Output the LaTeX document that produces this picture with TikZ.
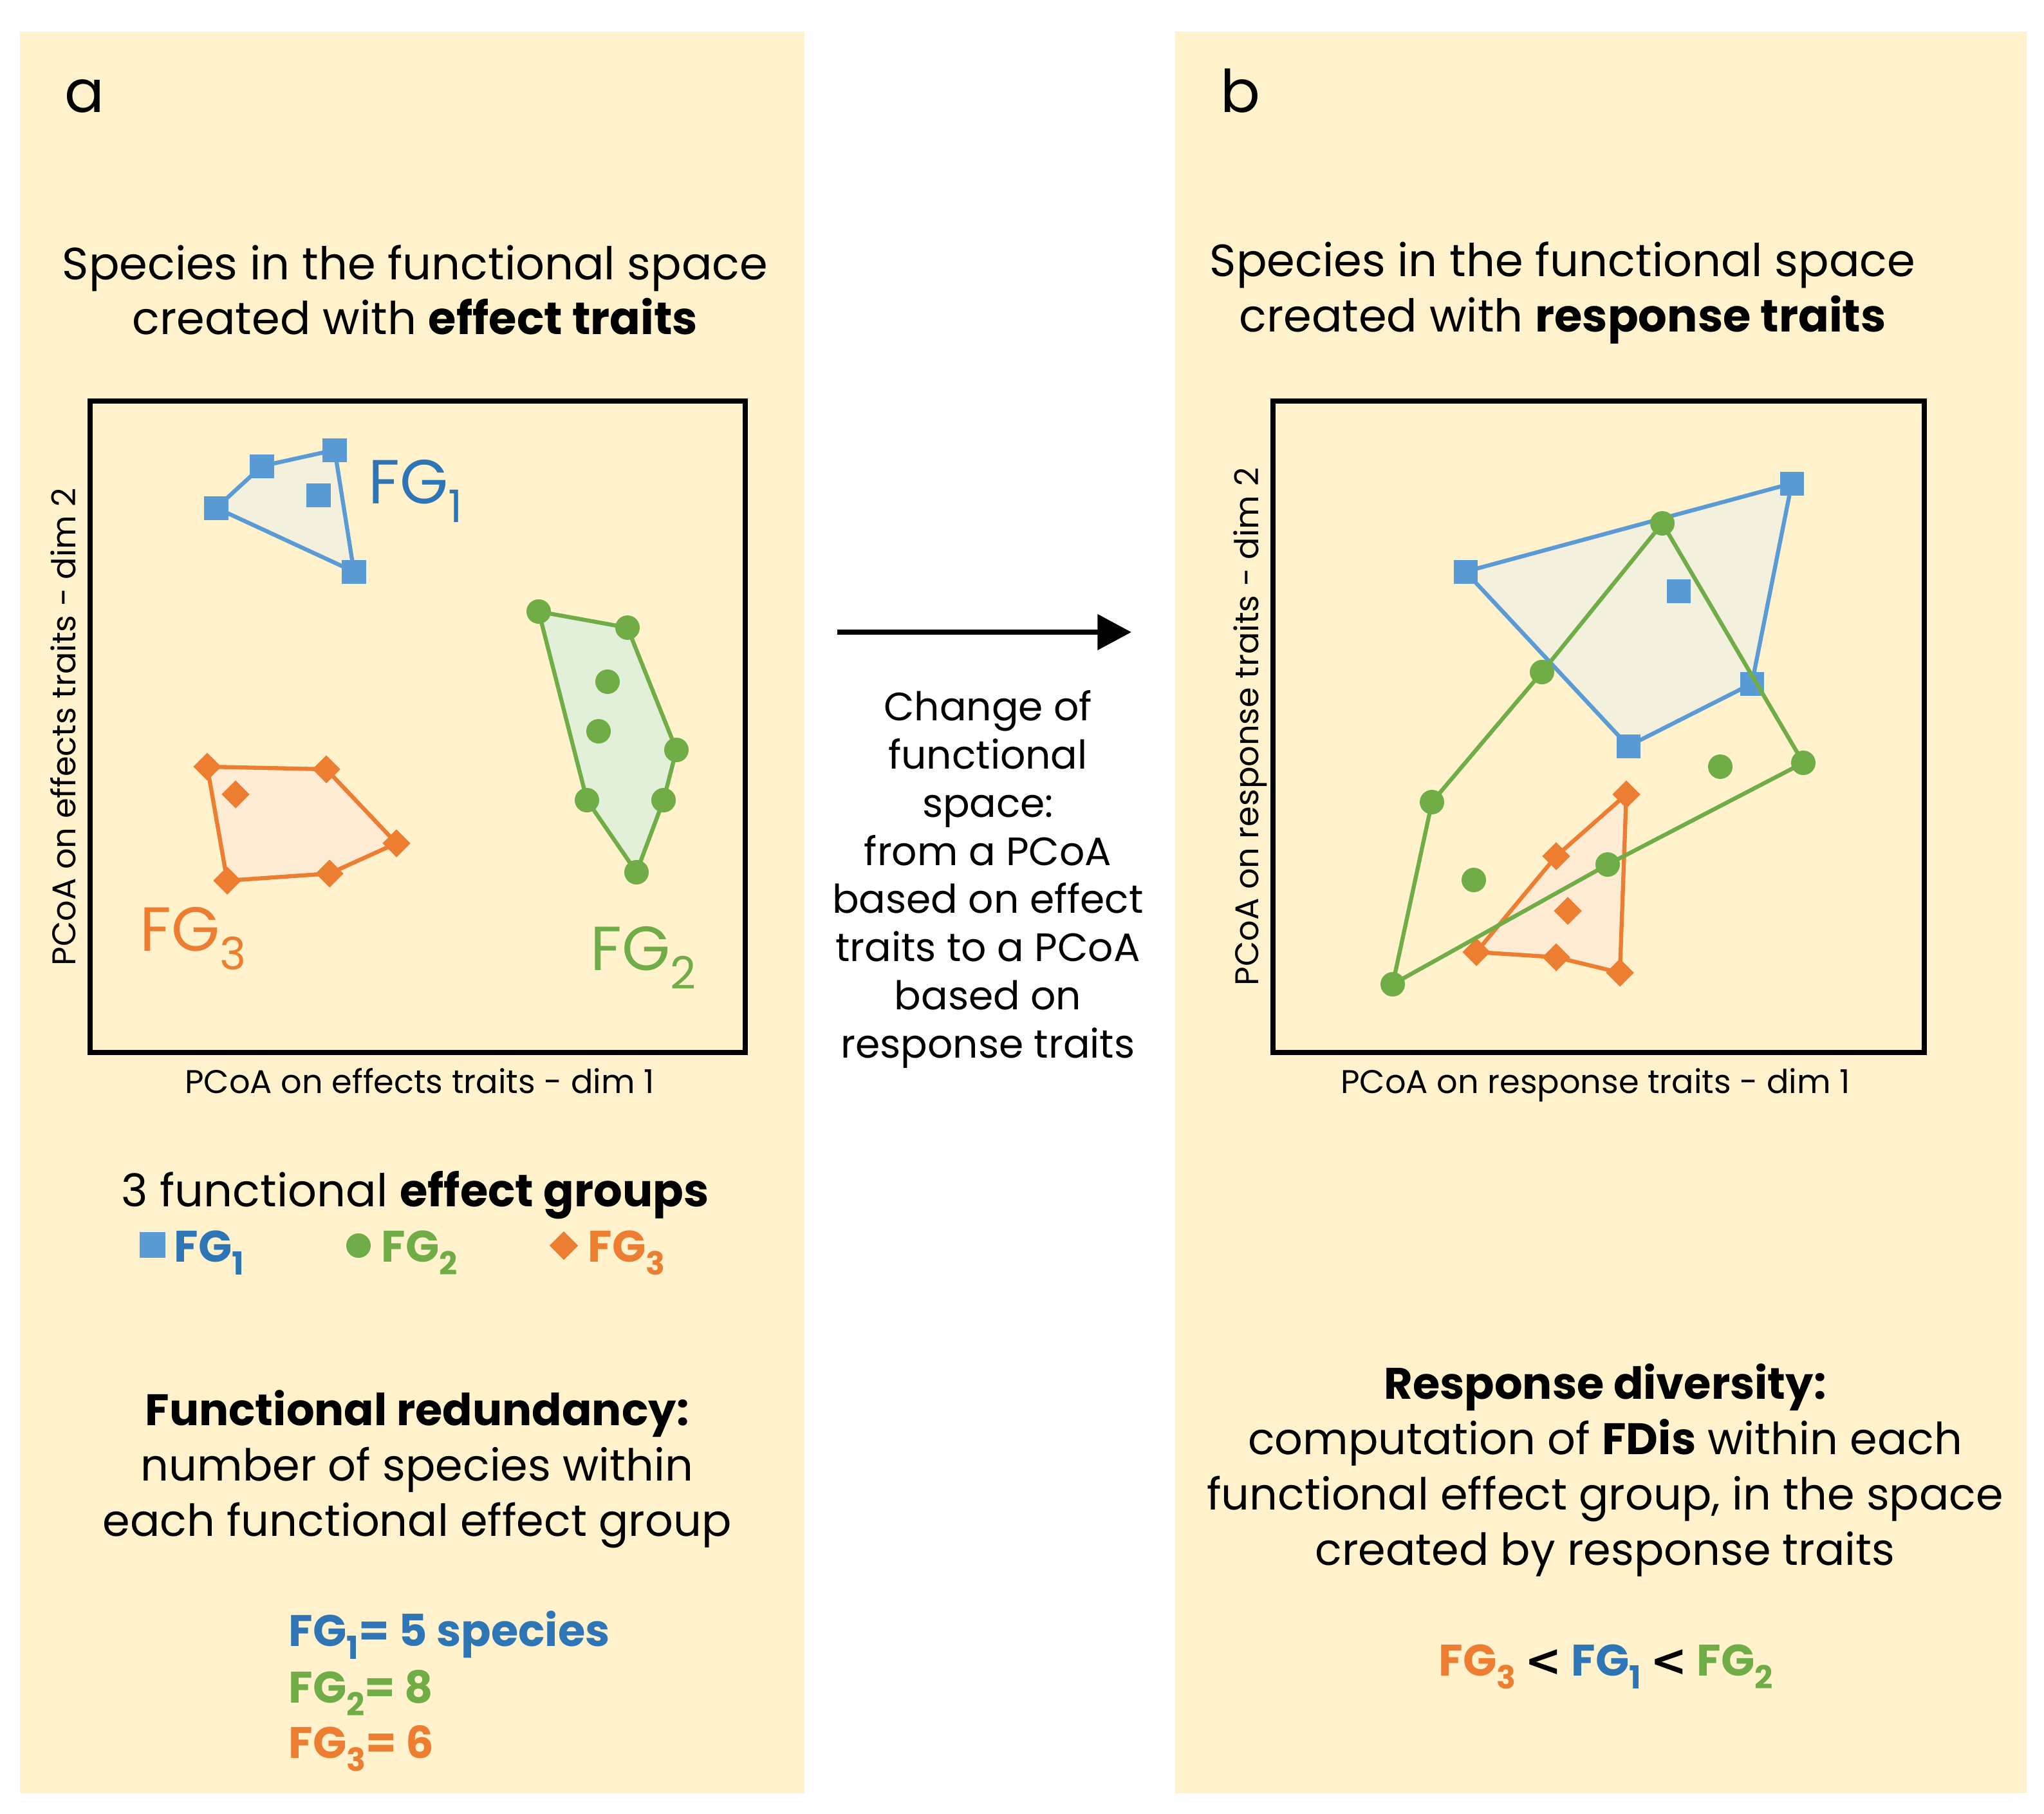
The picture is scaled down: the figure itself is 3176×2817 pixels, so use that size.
\documentclass[tikz,border=0pt]{standalone}
\usepackage{fontspec}
\usepackage{graphicx}
\setmainfont{Poppins}
\newfontfamily\ltfont{DejaVu Sans}
\usetikzlibrary{arrows.meta,shapes.geometric}

\definecolor{panelbg}{HTML}{FFF2CC}
\definecolor{fgblue}{HTML}{5B9BD5}
\definecolor{fgbluetext}{HTML}{2E75B6}
\definecolor{fggreen}{HTML}{70AD47}
\definecolor{fgorange}{HTML}{ED7D31}
\definecolor{hullblue}{HTML}{F3F1DD}
\definecolor{hullgreen}{HTML}{E2EFD9}
\definecolor{hullorange}{HTML}{FDEBD3}

\newcommand{\fgsub}[1]{\raisebox{-0.3em}{\scalebox{0.72}{#1}}}
\newcommand{\fgname}[1]{FG\fgsub{#1}}
\newcommand{\lessthan}{{\ltfont\bfseries <}}

\begin{document}
\begin{tikzpicture}[x=0.01cm,y=-0.01cm,
    panel/.style={fill=panelbg,draw=none},
    plotbox/.style={draw=black,line width=2.3pt},
    fgonemark/.style={rectangle,fill=fgblue,inner sep=0pt,minimum size=0.37cm},
    fgtwomark/.style={circle,fill=fggreen,inner sep=0pt,minimum size=0.38cm},
    fgthreemark/.style={diamond,fill=fgorange,inner sep=0pt,minimum size=0.44cm},
    hull/.style={line width=1.8pt,line join=round},
    title/.style={align=center,inner sep=0pt,font=\fontsize{20}{24.2}\selectfont},
    axislabel/.style={inner sep=0pt,anchor=base,font=\fontsize{14.5}{18}\selectfont},
    fglabel/.style={inner sep=0pt,anchor=base west,font=\fontsize{27.5}{33}\selectfont},
    bodytext/.style={align=center,inner sep=0pt,font=\fontsize{19.5}{24.5}\selectfont},
    boldfg/.style={inner sep=0pt,anchor=base west,font=\fontsize{19.5}{24.5}\selectfont\bfseries}]
  \useasboundingbox (0,0) rectangle (3176,2817);
  \fill[white] (0,0) rectangle (3176,2817);
  \fill[panel] (31,49) rectangle (1250,2786);
  \fill[panel] (1826,49) rectangle (3149,2786);

  % panel a
  \node[anchor=base west,inner sep=0pt,font=\fontsize{26}{30}\selectfont] (panela) at (100,174) {a};
  \node[title] (titlea) at (645,450) {Species in the functional space\\created with \textbf{effect traits}};

  \coordinate (lb1) at (336,789);
  \coordinate (lb2) at (407,724);
  \coordinate (lb3) at (520,699);
  \coordinate (lb4) at (550,888);
  \coordinate (lb5) at (495,769);
  \coordinate (lg1) at (837,950);
  \coordinate (lg2) at (975,975);
  \coordinate (lg3) at (1051,1165);
  \coordinate (lg4) at (1031,1243);
  \coordinate (lg5) at (989,1355);
  \coordinate (lg6) at (912,1243);
  \coordinate (lg7) at (944,1059);
  \coordinate (lg8) at (930,1136);
  \coordinate (lo1) at (322,1191);
  \coordinate (lo2) at (507,1195);
  \coordinate (lo3) at (616,1310);
  \coordinate (lo4) at (512,1357);
  \coordinate (lo5) at (353,1368);
  \coordinate (lo6) at (366,1234);

  \draw[hull,fgblue,fill=hullblue] (lb1) -- (lb2) -- (lb3) -- (lb4) -- cycle;
  \draw[hull,fggreen,fill=hullgreen] (lg1) -- (lg2) -- (lg3) -- (lg4) -- (lg5) -- (lg6) -- cycle;
  \draw[hull,fgorange,fill=hullorange] (lo1) -- (lo2) -- (lo3) -- (lo4) -- (lo5) -- cycle;
  \foreach \c in {lb1,lb2,lb3,lb4,lb5} \node[fgonemark] (m\c) at (\c) {};
  \foreach \c in {lg1,lg2,lg3,lg4,lg5,lg6,lg7,lg8} \node[fgtwomark] (m\c) at (\c) {};
  \foreach \c in {lo1,lo2,lo3,lo4,lo5,lo6} \node[fgthreemark] (m\c) at (\c) {};

  \node[fglabel,fgbluetext] (labonea) at (572,782) {\fgname{1}};
  \node[fglabel,fggreen] (labtwoa) at (917,1507) {\fgname{2}};
  \node[fglabel,fgorange] (labthreea) at (217,1477) {\fgname{3}};

  \draw[plotbox] (140,623) rectangle (1158,1635);
  \node[axislabel] (xaxisa) at (652,1698) {PCoA on effects traits - dim 1};
  \node[axislabel,rotate=90] (yaxisa) at (117,1129) {PCoA on effects traits - dim 2};

  \node[inner sep=0pt,anchor=base,font=\fontsize{20}{24.2}\selectfont] (groupsa) at (645,1874) {3 functional \textbf{effect groups}};
  \node[fgonemark,minimum size=0.4cm] (legone) at (237,1934) {};
  \node[fgtwomark,minimum size=0.38cm] (legtwo) at (557,1935) {};
  \node[fgthreemark,minimum size=0.45cm] (legthree) at (876,1935) {};
  \node[boldfg,fgbluetext] (legonetxt) at (270,1960) {\fgname{1}};
  \node[boldfg,fggreen] (legtwotxt) at (592,1960) {\fgname{2}};
  \node[boldfg,fgorange] (legthreetxt) at (913,1960) {\fgname{3}};

  \node[bodytext] (redund) at (648,2282) {\textbf{Functional redundancy:}\\number of species within\\each functional effect group};
  \node[boldfg,fgbluetext] (redone) at (448,2557) {\fgname{1}= 5 species};
  \node[boldfg,fggreen] (redtwo) at (448,2645) {\fgname{2}= 8};
  \node[boldfg,fgorange] (redthree) at (448,2731) {\fgname{3}= 6};

  % change of space
  \coordinate (arrowstart) at (1301,982);
  \coordinate (arrowend) at (1758,982);
  \draw[line width=2.3pt,-{Triangle[length=15pt,width=15.4pt]}] (arrowstart) -- (arrowend);
  \node[align=center,inner sep=0pt,font=\fontsize{17.5}{21.3}\selectfont] (change) at (1535,1366)
    {Change of\\functional\\space:\\from a PCoA\\based on effect\\traits to a PCoA\\based on\\response traits};

  % panel b
  \node[anchor=base west,inner sep=0pt,font=\fontsize{26}{30}\selectfont] (panelb) at (1896,174) {b};
  \node[title] (titleb) at (2428,455) {Species in the functional space\\created with \textbf{response traits}};

  \coordinate (rb1) at (2277,888);
  \coordinate (rb2) at (2784,751);
  \coordinate (rb3) at (2722,1062);
  \coordinate (rb4) at (2530,1159);
  \coordinate (rb5) at (2608,918);
  \coordinate (rg1) at (2583,813);
  \coordinate (rg2) at (2396,1044);
  \coordinate (rg3) at (2225,1246);
  \coordinate (rg4) at (2164,1529);
  \coordinate (rg5) at (2498,1343);
  \coordinate (rg6) at (2802,1185);
  \coordinate (rg7) at (2673,1191);
  \coordinate (rg8) at (2290,1367);
  \coordinate (ro1) at (2527,1234);
  \coordinate (ro2) at (2418,1330);
  \coordinate (ro3) at (2294,1479);
  \coordinate (ro4) at (2418,1487);
  \coordinate (ro5) at (2517,1511);
  \coordinate (ro6) at (2436,1415);

  \draw[hull,fgblue,fill=hullblue] (rb1) -- (rb2) -- (rb3) -- (rb4) -- cycle;
  \draw[hull,fgorange,fill=hullorange] (ro1) -- (ro2) -- (ro3) -- (ro4) -- (ro5) -- cycle;
  \foreach \c in {rb1,rb2,rb3,rb4,rb5} \node[fgonemark] (m\c) at (\c) {};
  \foreach \c in {ro1,ro2,ro3,ro4,ro5,ro6} \node[fgthreemark] (m\c) at (\c) {};
  \draw[hull,fggreen] (rg1) -- (rg2) -- (rg3) -- (rg4) -- (rg5) -- (rg6) -- cycle;
  \foreach \c in {rg1,rg2,rg3,rg4,rg5,rg6,rg7,rg8} \node[fgtwomark] (m\c) at (\c) {};

  \draw[plotbox] (1978,623) rectangle (2990,1635);
  \node[axislabel] (xaxisb) at (2479,1698) {PCoA on response traits - dim 1};
  \node[axislabel,rotate=90] (yaxisb) at (1955,1129) {PCoA on response traits - dim 2};

  \node[bodytext] (respdiv) at (2494,2284) {\textbf{Response diversity:}\\computation of \textbf{FDis} within each\\functional effect group, in the space\\created by response traits};
  \node[inner sep=0pt,anchor=base,font=\fontsize{19.5}{24.5}\selectfont\bfseries] (ranking) at (2495,2603)
    {\textcolor{fgorange}{\fgname{3}} \lessthan{} \textcolor{fgbluetext}{\fgname{1}} \lessthan{} \textcolor{fggreen}{\fgname{2}}};
\end{tikzpicture}
\end{document}
